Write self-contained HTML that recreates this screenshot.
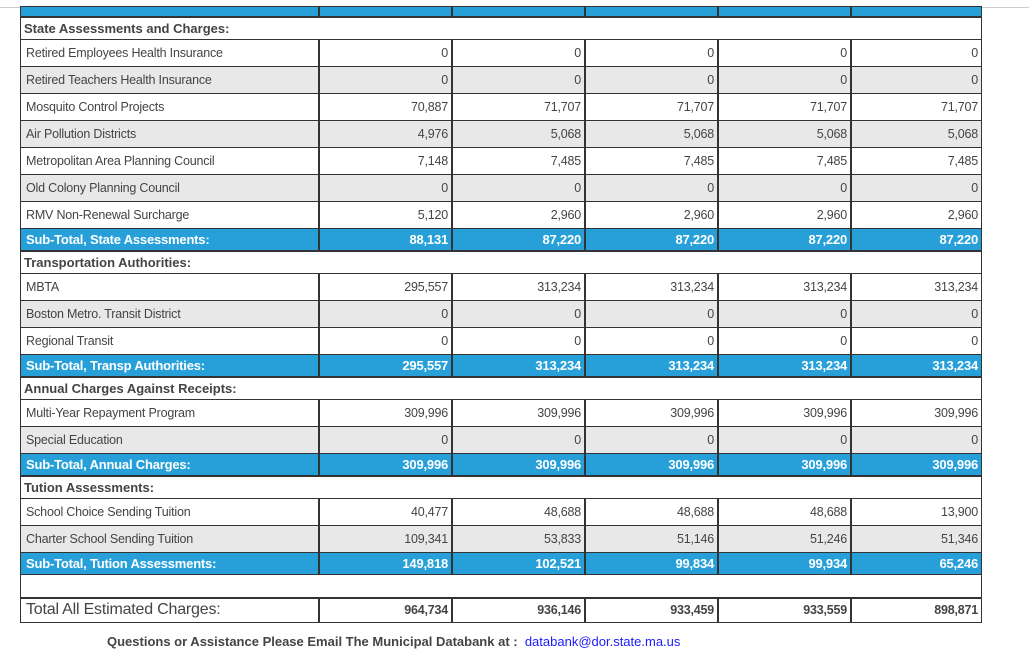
<!DOCTYPE html>
<html><head><meta charset="utf-8"><style>
body{margin:0;width:1029px;height:648px;background:#fff;position:relative;overflow:hidden;font-family:"Liberation Sans",sans-serif;color:#444;}
.r{position:absolute;left:20px;width:962px;display:flex;box-sizing:border-box;}
.r>div{box-sizing:border-box;border:1px solid #333;font-size:12.5px;display:flex;align-items:center;justify-content:flex-end;padding:0 3px;white-space:nowrap;letter-spacing:-0.2px;flex:none;}
.r>div:first-child{width:299px;justify-content:flex-start;padding-left:5px;}
.r>div:not(:first-child){width:133px;}
.r>div:last-child{width:131px;}
.d{height:28px;}
.g>div{background:#e8e8e8;}
.s{height:23px;}
.s>div{background:#27a0da;color:#fff;font-weight:bold;font-size:13px;border-width:1.2px;}
.h{height:23px;border:1.5px solid #333;font-weight:bold;font-size:13px;padding-left:3px;align-items:center;color:#444;}
.t{height:26px;}
.t>div{font-weight:bold;font-size:12.5px;}
.t>div:first-child{font-weight:normal;font-size:16px;}
</style></head><body>
<div style="position:absolute;left:0;top:7px;width:1029px;height:1px;background:#ccc"></div>
<div class="r s" style="top:6px;height:11px;overflow:hidden"><div></div><div></div><div></div><div></div><div></div><div></div></div>
<div class="r h" style="top:17px">State Assessments and Charges:</div>
<div class="r d" style="top:39px"><div>Retired Employees Health Insurance</div><div>0</div><div>0</div><div>0</div><div>0</div><div>0</div></div>
<div class="r d g" style="top:66px"><div>Retired Teachers Health Insurance</div><div>0</div><div>0</div><div>0</div><div>0</div><div>0</div></div>
<div class="r d" style="top:93px"><div>Mosquito Control Projects</div><div>70,887</div><div>71,707</div><div>71,707</div><div>71,707</div><div>71,707</div></div>
<div class="r d g" style="top:120px"><div>Air Pollution Districts</div><div>4,976</div><div>5,068</div><div>5,068</div><div>5,068</div><div>5,068</div></div>
<div class="r d" style="top:147px"><div>Metropolitan Area Planning Council</div><div>7,148</div><div>7,485</div><div>7,485</div><div>7,485</div><div>7,485</div></div>
<div class="r d g" style="top:174px"><div>Old Colony Planning Council</div><div>0</div><div>0</div><div>0</div><div>0</div><div>0</div></div>
<div class="r d" style="top:201px"><div>RMV Non-Renewal Surcharge</div><div>5,120</div><div>2,960</div><div>2,960</div><div>2,960</div><div>2,960</div></div>
<div class="r s" style="top:228px"><div>Sub-Total, State Assessments:</div><div>88,131</div><div>87,220</div><div>87,220</div><div>87,220</div><div>87,220</div></div>
<div class="r h" style="top:251px">Transportation Authorities:</div>
<div class="r d" style="top:273px"><div>MBTA</div><div>295,557</div><div>313,234</div><div>313,234</div><div>313,234</div><div>313,234</div></div>
<div class="r d g" style="top:300px"><div>Boston Metro. Transit District</div><div>0</div><div>0</div><div>0</div><div>0</div><div>0</div></div>
<div class="r d" style="top:327px"><div>Regional Transit</div><div>0</div><div>0</div><div>0</div><div>0</div><div>0</div></div>
<div class="r s" style="top:354px"><div>Sub-Total, Transp Authorities:</div><div>295,557</div><div>313,234</div><div>313,234</div><div>313,234</div><div>313,234</div></div>
<div class="r h" style="top:377px">Annual Charges Against Receipts:</div>
<div class="r d" style="top:399px"><div>Multi-Year Repayment Program</div><div>309,996</div><div>309,996</div><div>309,996</div><div>309,996</div><div>309,996</div></div>
<div class="r d g" style="top:426px"><div>Special Education</div><div>0</div><div>0</div><div>0</div><div>0</div><div>0</div></div>
<div class="r s" style="top:453px"><div>Sub-Total, Annual Charges:</div><div>309,996</div><div>309,996</div><div>309,996</div><div>309,996</div><div>309,996</div></div>
<div class="r h" style="top:476px">Tution Assessments:</div>
<div class="r d" style="top:498px"><div>School Choice Sending Tuition</div><div>40,477</div><div>48,688</div><div>48,688</div><div>48,688</div><div>13,900</div></div>
<div class="r d g" style="top:525px"><div>Charter School Sending Tuition</div><div>109,341</div><div>53,833</div><div>51,146</div><div>51,246</div><div>51,346</div></div>
<div class="r s" style="top:552px"><div>Sub-Total, Tution Assessments:</div><div>149,818</div><div>102,521</div><div>99,834</div><div>99,934</div><div>65,246</div></div>
<div class="r" style="top:574px;height:25px;border:1.5px solid #333;border-top:none"></div>
<div class="r t" style="top:597px"><div>Total All Estimated Charges:</div><div>964,734</div><div>936,146</div><div>933,459</div><div>933,559</div><div>898,871</div></div>
<div style="position:absolute;left:107px;top:634px;font-size:13px;white-space:nowrap;color:#444"><b>Questions or Assistance Please Email The Municipal Databank at :</b> &nbsp;<span style="color:#1a1aff">databank@dor.state.ma.us</span></div>
</body></html>
